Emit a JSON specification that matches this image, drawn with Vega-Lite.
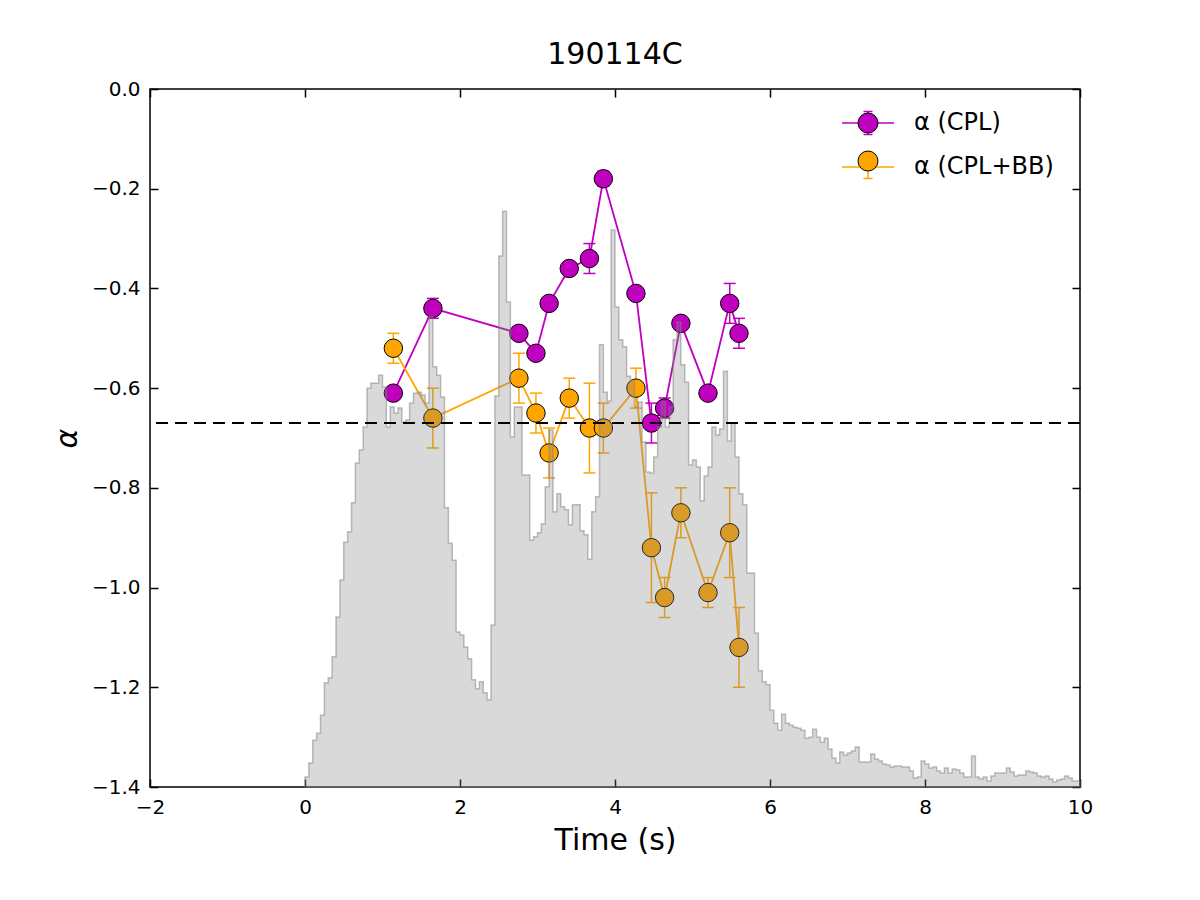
{
  "$schema": "https://vega.github.io/schema/vega-lite/v6.json",
  "width": 930,
  "height": 698,
  "autosize": "none",
  "padding": {"left": 150, "top": 89, "right": 120, "bottom": 113},
  "background": "white",
  "title": {"text": "190114C", "fontSize": 30, "font": "DejaVu Sans", "fontWeight": "normal", "color": "black", "anchor": "middle", "offset": 9},
  "config": {
    "font": "DejaVu Sans",
    "view": {"stroke": "black", "strokeWidth": 1.5},
    "axis": {"domain": false, "grid": false, "tickColor": "black", "tickWidth": 1.5, "tickSize": -8, "labelColor": "black", "titleColor": "black", "labelFont": "DejaVu Sans", "titleFont": "DejaVu Sans", "labelFontSize": 20, "titleFontWeight": "normal", "labelFlush": false, "labelOverlap": false}
  },
  "datasets": {
    "alpha": [
      {"t": 1.14, "s": "α (CPL)", "a": -0.61, "lo": -0.62, "hi": -0.60},
      {"t": 1.65, "s": "α (CPL)", "a": -0.44, "lo": -0.46, "hi": -0.42},
      {"t": 2.76, "s": "α (CPL)", "a": -0.49, "lo": -0.50, "hi": -0.48},
      {"t": 2.98, "s": "α (CPL)", "a": -0.53, "lo": -0.54, "hi": -0.52},
      {"t": 3.15, "s": "α (CPL)", "a": -0.43, "lo": -0.44, "hi": -0.42},
      {"t": 3.41, "s": "α (CPL)", "a": -0.36, "lo": -0.37, "hi": -0.35},
      {"t": 3.67, "s": "α (CPL)", "a": -0.34, "lo": -0.37, "hi": -0.31},
      {"t": 3.85, "s": "α (CPL)", "a": -0.18, "lo": -0.195, "hi": -0.165},
      {"t": 4.27, "s": "α (CPL)", "a": -0.41, "lo": -0.42, "hi": -0.40},
      {"t": 4.47, "s": "α (CPL)", "a": -0.67, "lo": -0.71, "hi": -0.63},
      {"t": 4.64, "s": "α (CPL)", "a": -0.64, "lo": -0.66, "hi": -0.62},
      {"t": 4.85, "s": "α (CPL)", "a": -0.47, "lo": -0.48, "hi": -0.46},
      {"t": 5.20, "s": "α (CPL)", "a": -0.61, "lo": -0.62, "hi": -0.60},
      {"t": 5.48, "s": "α (CPL)", "a": -0.43, "lo": -0.47, "hi": -0.39},
      {"t": 5.60, "s": "α (CPL)", "a": -0.49, "lo": -0.52, "hi": -0.46},
      {"t": 1.14, "s": "α (CPL+BB)", "a": -0.52, "lo": -0.55, "hi": -0.49},
      {"t": 1.65, "s": "α (CPL+BB)", "a": -0.66, "lo": -0.72, "hi": -0.60},
      {"t": 2.76, "s": "α (CPL+BB)", "a": -0.58, "lo": -0.63, "hi": -0.53},
      {"t": 2.98, "s": "α (CPL+BB)", "a": -0.65, "lo": -0.69, "hi": -0.61},
      {"t": 3.15, "s": "α (CPL+BB)", "a": -0.73, "lo": -0.78, "hi": -0.68},
      {"t": 3.41, "s": "α (CPL+BB)", "a": -0.62, "lo": -0.66, "hi": -0.58},
      {"t": 3.67, "s": "α (CPL+BB)", "a": -0.68, "lo": -0.77, "hi": -0.59},
      {"t": 3.85, "s": "α (CPL+BB)", "a": -0.68, "lo": -0.73, "hi": -0.63},
      {"t": 4.27, "s": "α (CPL+BB)", "a": -0.60, "lo": -0.64, "hi": -0.56},
      {"t": 4.47, "s": "α (CPL+BB)", "a": -0.92, "lo": -1.03, "hi": -0.81},
      {"t": 4.64, "s": "α (CPL+BB)", "a": -1.02, "lo": -1.06, "hi": -0.98},
      {"t": 4.85, "s": "α (CPL+BB)", "a": -0.85, "lo": -0.90, "hi": -0.80},
      {"t": 5.20, "s": "α (CPL+BB)", "a": -1.01, "lo": -1.04, "hi": -0.98},
      {"t": 5.48, "s": "α (CPL+BB)", "a": -0.89, "lo": -0.98, "hi": -0.80},
      {"t": 5.60, "s": "α (CPL+BB)", "a": -1.12, "lo": -1.20, "hi": -1.04}
    ],
    "lc": [
      {"t":0,"r":20},{"t":0.05,"r":48},{"t":0.1,"r":94},{"t":0.15,"r":108},{"t":0.2,"r":144},{"t":0.25,"r":209},{"t":0.3,"r":219},{"t":0.35,"r":261},{"t":0.4,"r":341},{"t":0.45,"r":415},
      {"t":0.5,"r":491},{"t":0.55,"r":512},{"t":0.6,"r":570},{"t":0.65,"r":650},{"t":0.7,"r":676},{"t":0.75,"r":722},{"t":0.8,"r":800},{"t":0.85,"r":810},{"t":0.9,"r":810},{"t":0.95,"r":826},
      {"t":1.0,"r":802},{"t":1.05,"r":722},{"t":1.1,"r":762},{"t":1.15,"r":750},{"t":1.2,"r":760},{"t":1.25,"r":732},{"t":1.3,"r":736},{"t":1.35,"r":770},{"t":1.4,"r":790},{"t":1.45,"r":792},
      {"t":1.5,"r":786},{"t":1.55,"r":770},{"t":1.6,"r":943},{"t":1.65,"r":843},{"t":1.7,"r":826},{"t":1.75,"r":782},{"t":1.8,"r":560},{"t":1.85,"r":489},{"t":1.9,"r":455},{"t":1.95,"r":311},
      {"t":2.0,"r":305},{"t":2.05,"r":281},{"t":2.1,"r":257},{"t":2.15,"r":215},{"t":2.2,"r":197},{"t":2.25,"r":211},{"t":2.3,"r":189},{"t":2.35,"r":175},{"t":2.4,"r":325},{"t":2.45,"r":784},
      {"t":2.5,"r":1065},{"t":2.55,"r":1155},{"t":2.6,"r":973},{"t":2.65,"r":702},{"t":2.7,"r":762},{"t":2.75,"r":762},{"t":2.8,"r":626},{"t":2.85,"r":626},{"t":2.9,"r":495},{"t":2.95,"r":502},
      {"t":3.0,"r":510},{"t":3.05,"r":528},{"t":3.1,"r":602},{"t":3.15,"r":716},{"t":3.2,"r":552},{"t":3.25,"r":588},{"t":3.3,"r":562},{"t":3.35,"r":556},{"t":3.4,"r":526},{"t":3.45,"r":566},
      {"t":3.5,"r":566},{"t":3.55,"r":514},{"t":3.6,"r":506},{"t":3.65,"r":457},{"t":3.7,"r":552},{"t":3.75,"r":582},{"t":3.8,"r":887},{"t":3.85,"r":792},{"t":3.9,"r":774},{"t":3.95,"r":1117},
      {"t":4.0,"r":963},{"t":4.05,"r":897},{"t":4.1,"r":883},{"t":4.15,"r":824},{"t":4.2,"r":816},{"t":4.25,"r":762},{"t":4.3,"r":772},{"t":4.35,"r":692},{"t":4.4,"r":632},{"t":4.45,"r":630},
      {"t":4.5,"r":662},{"t":4.55,"r":722},{"t":4.6,"r":772},{"t":4.65,"r":722},{"t":4.7,"r":762},{"t":4.75,"r":897},{"t":4.8,"r":933},{"t":4.85,"r":847},{"t":4.9,"r":812},{"t":4.95,"r":646},
      {"t":5.0,"r":656},{"t":5.05,"r":642},{"t":5.1,"r":574},{"t":5.15,"r":624},{"t":5.2,"r":642},{"t":5.25,"r":722},{"t":5.3,"r":706},{"t":5.35,"r":718},{"t":5.4,"r":834},{"t":5.45,"r":694},
      {"t":5.5,"r":730},{"t":5.55,"r":662},{"t":5.6,"r":588},{"t":5.65,"r":566},{"t":5.7,"r":429},{"t":5.75,"r":429},{"t":5.8,"r":309},{"t":5.85,"r":233},{"t":5.9,"r":211},{"t":5.95,"r":205},
      {"t":6.0,"r":154},{"t":6.05,"r":128},{"t":6.1,"r":114},{"t":6.15,"r":146},{"t":6.2,"r":128},{"t":6.25,"r":124},{"t":6.3,"r":120},{"t":6.35,"r":118},{"t":6.4,"r":114},{"t":6.45,"r":98},
      {"t":6.5,"r":100},{"t":6.55,"r":116},{"t":6.6,"r":100},{"t":6.65,"r":90},{"t":6.7,"r":98},{"t":6.75,"r":76},{"t":6.8,"r":58},{"t":6.85,"r":48},{"t":6.9,"r":70},{"t":6.95,"r":64},
      {"t":7.0,"r":68},{"t":7.05,"r":72},{"t":7.1,"r":80},{"t":7.15,"r":50},{"t":7.2,"r":50},{"t":7.25,"r":50},{"t":7.3,"r":66},{"t":7.35,"r":56},{"t":7.4,"r":52},{"t":7.45,"r":46},
      {"t":7.5,"r":44},{"t":7.55,"r":40},{"t":7.6,"r":42},{"t":7.65,"r":42},{"t":7.7,"r":40},{"t":7.75,"r":40},{"t":7.8,"r":32},{"t":7.85,"r":18},{"t":7.9,"r":20},{"t":7.95,"r":52},
      {"t":8.0,"r":46},{"t":8.05,"r":38},{"t":8.1,"r":40},{"t":8.15,"r":32},{"t":8.2,"r":28},{"t":8.25,"r":38},{"t":8.3,"r":28},{"t":8.35,"r":36},{"t":8.4,"r":34},{"t":8.45,"r":28},
      {"t":8.5,"r":20},{"t":8.55,"r":20},{"t":8.6,"r":62},{"t":8.65,"r":20},{"t":8.7,"r":16},{"t":8.75,"r":20},{"t":8.8,"r":12},{"t":8.85,"r":22},{"t":8.9,"r":28},{"t":8.95,"r":28},
      {"t":9.0,"r":28},{"t":9.05,"r":38},{"t":9.1,"r":30},{"t":9.15,"r":22},{"t":9.2,"r":24},{"t":9.25,"r":24},{"t":9.3,"r":32},{"t":9.35,"r":30},{"t":9.4,"r":28},{"t":9.45,"r":22},
      {"t":9.5,"r":20},{"t":9.55,"r":22},{"t":9.6,"r":16},{"t":9.65,"r":10},{"t":9.7,"r":14},{"t":9.75,"r":16},{"t":9.8,"r":22},{"t":9.85,"r":18},{"t":9.9,"r":12},{"t":9.95,"r":12},
      {"t":10.0,"r":12}
    ]
  },
  "layer": [
    {
      "data": {"name": "alpha"},
      "encoding": {
        "x": {"field": "t", "type": "quantitative", "scale": {"domain": [-2, 10], "nice": false, "zero": false},
          "axis": {"orient": "bottom", "values": [-2, 0, 2, 4, 6, 8, 10], "labelExpr": "replace(format(datum.value, 'd'), '-', '−')", "title": "Time (s)", "titleFontSize": 30, "labelPadding": 18, "titlePadding": 8}}
      },
      "layer": [
        {
          "mark": {"type": "line", "strokeWidth": 1.8},
          "encoding": {
            "y": {"field": "a", "type": "quantitative", "scale": {"domain": [-1.4, 0], "nice": false, "zero": false},
              "axis": {"orient": "left", "values": [-1.4, -1.2, -1.0, -0.8, -0.6, -0.4, -0.2, 0], "labelExpr": "replace(format(datum.value, '.1f'), '-', '−')", "title": "α", "titleFontSize": 30, "titleFontStyle": "italic", "labelPadding": 18, "titlePadding": 9}},
            "color": {"field": "s", "type": "nominal", "scale": {"domain": ["α (CPL)", "α (CPL+BB)"], "range": ["#bf00bf", "#ffa500"]},
              "legend": {"orient": "none", "legendX": 706, "legendY": 22, "title": null, "symbolType": "M-2.6,0H2.6M0,-1.15V1.15M-0.45,-1.15H0.45M-0.45,1.15H0.45", "symbolSize": 400, "symbolStrokeWidth": 1.5, "symbolFillColor": "transparent", "labelFontSize": 24, "labelColor": "black", "labelOffset": 34, "rowPadding": 14, "padding": 0}},
            "order": {"field": "t", "type": "quantitative"}
          }
        },
        {
          "mark": {"type": "rule", "strokeWidth": 1.5},
          "encoding": {
            "y": {"field": "lo", "type": "quantitative"},
            "y2": {"field": "hi"},
            "color": {"field": "s", "type": "nominal"}
          }
        },
        {
          "mark": {"type": "tick", "orient": "horizontal", "size": 12, "thickness": 1.5, "opacity": 1},
          "encoding": {
            "y": {"field": "lo", "type": "quantitative"},
            "color": {"field": "s", "type": "nominal"}
          }
        },
        {
          "mark": {"type": "tick", "orient": "horizontal", "size": 12, "thickness": 1.5, "opacity": 1},
          "encoding": {
            "y": {"field": "hi", "type": "quantitative"},
            "color": {"field": "s", "type": "nominal"}
          }
        },
        {
          "mark": {"type": "point", "shape": "circle", "filled": true, "size": 340, "stroke": "black", "strokeWidth": 1, "opacity": 1},
          "encoding": {
            "y": {"field": "a", "type": "quantitative"},
            "fill": {"field": "s", "type": "nominal", "scale": {"range": ["#bf00bf", "#ffa500"]},
              "legend": {"orient": "none", "legendX": 706, "legendY": 22, "title": null, "symbolType": "circle", "symbolSize": 400, "symbolStrokeColor": "black", "symbolStrokeWidth": 1, "symbolOpacity": 1, "labelFontSize": 24, "labelOffset": 34, "labelExpr": "''", "rowPadding": 14, "padding": 0}}
          }
        }
      ]
    },
    {
      "data": {"name": "lc"},
      "mark": {"type": "area", "interpolate": "step-after", "fill": "#808080", "fillOpacity": 0.3, "stroke": "#808080", "strokeOpacity": 0.5, "strokeWidth": 1.5},
      "encoding": {
        "x": {"field": "t", "type": "quantitative", "scale": {"domain": [-2, 10], "nice": false, "zero": false},
          "axis": {"orient": "top", "values": [-2, 0, 2, 4, 6, 8, 10], "labels": false, "title": null}},
        "y": {"field": "r", "type": "quantitative", "scale": {"domain": [0, 1400], "nice": false},
          "axis": {"orient": "right", "values": [0, 200, 400, 600, 800, 1000, 1200, 1400], "labels": false, "title": null}}
      }
    },
    {
      "data": {"values": [{"alpha": -0.67}]},
      "mark": {"type": "rule", "color": "black", "strokeWidth": 2, "strokeDash": [12, 7]},
      "encoding": {
        "y": {"field": "alpha", "type": "quantitative", "scale": {"domain": [-1.4, 0], "nice": false, "zero": false}, "axis": null}
      }
    }
  ],
  "resolve": {"scale": {"y": "independent"}, "axis": {"y": "independent", "x": "independent"}}
}
